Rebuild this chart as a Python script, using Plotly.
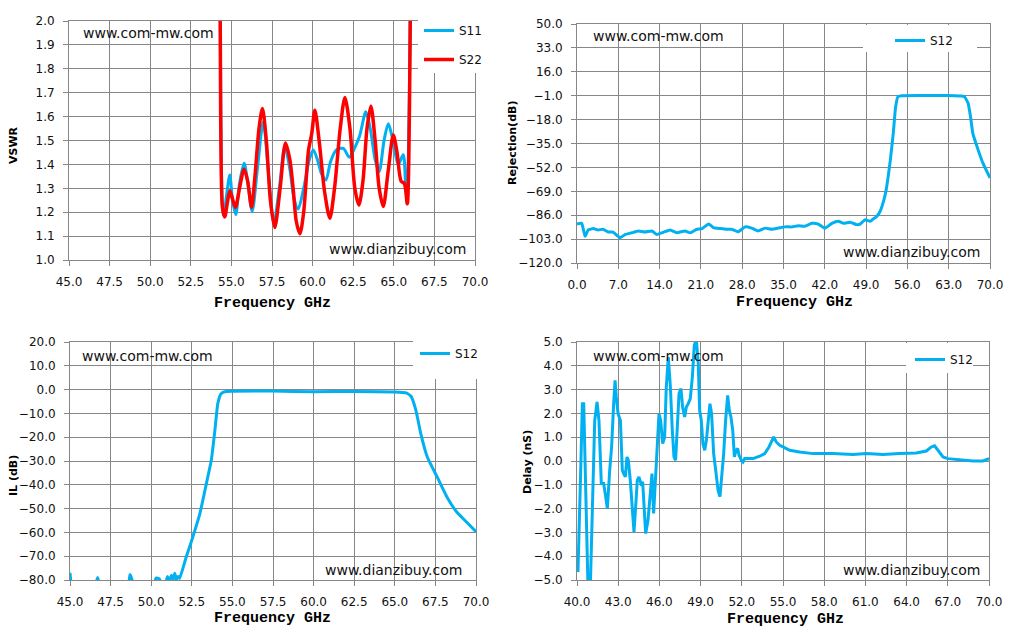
import plotly.graph_objects as go

# The page body has an 8px margin, so the figure is drawn 8px in and sized to end at 1014x632.
OFF = 8
W, H = 1014 - OFF, 632 - OFF

# ---------------- data ----------------
# VSWR (top-left)
vswr_f_s11 = [54.29, 54.35, 54.45, 54.53, 54.7, 54.9, 55.07, 55.27, 55.5, 55.78, 56.0, 56.28, 56.6, 56.96,
              57.3, 57.61, 57.95, 58.29, 58.6, 58.85, 59.11, 59.45, 59.8, 60.04, 60.3, 60.55, 60.82, 61.1,
              61.45, 61.89, 62.26, 62.6, 62.9, 63.28, 63.55, 63.85, 64.1, 64.4, 64.66, 64.95, 65.27, 65.58,
              65.72, 65.8, 65.9, 66.0, 66.05]
vswr_s11 = [2.3, 1.6, 1.22, 1.185, 1.27, 1.356, 1.25, 1.19, 1.32, 1.405, 1.33, 1.203, 1.38, 1.578,
            1.35, 1.154, 1.3, 1.474, 1.38, 1.26, 1.213, 1.3, 1.42, 1.46, 1.42, 1.36, 1.335, 1.41,
            1.46, 1.467, 1.43, 1.47, 1.52, 1.62, 1.55, 1.42, 1.37, 1.5, 1.57, 1.5, 1.40, 1.44,
            1.33, 1.29, 1.45, 1.95, 2.3]
vswr_f_s22 = [54.29, 54.34, 54.45, 54.59, 54.75, 54.9, 55.05, 55.25, 55.5, 55.78, 56.0, 56.24, 56.45, 56.7,
              56.91, 57.15, 57.4, 57.67, 58.0, 58.33, 58.6, 58.8, 59.0, 59.22, 59.45, 59.75, 59.95, 60.14,
              60.4, 60.75, 61.06, 61.35, 61.7, 61.99, 62.3, 62.6, 62.85, 63.1, 63.35, 63.59, 63.85, 64.1,
              64.35, 64.65, 64.97, 65.2, 65.45, 65.65, 65.83, 65.92, 66.0, 66.05]
vswr_s22 = [2.3, 1.6, 1.22, 1.18, 1.24, 1.29, 1.26, 1.22, 1.3, 1.38, 1.33, 1.22, 1.35, 1.55,
            1.634, 1.5, 1.25, 1.136, 1.3, 1.49, 1.42, 1.3, 1.16, 1.11, 1.2, 1.46, 1.53, 1.627,
            1.5, 1.28, 1.175, 1.3, 1.55, 1.68, 1.55, 1.3, 1.23, 1.33, 1.55, 1.644, 1.5, 1.3,
            1.224, 1.37, 1.523, 1.45, 1.33, 1.32, 1.235, 1.4, 1.9, 2.3]

# Rejection (top-right)
rej_f = [0.0, 0.8, 1.36, 1.9, 2.77, 3.6, 4.4, 5.3, 6.1, 7.3, 8.2, 9.3, 10.4, 11.5, 12.7, 13.5, 14.7, 15.8,
         16.9, 18.3, 19.2, 20.3, 21.2, 22.3, 23.1, 24.3, 25.4, 26.2, 27.3, 28.5, 29.6, 30.7, 31.9, 33.0,
         34.1, 35.25, 36.4, 37.5, 38.6, 39.8, 40.9, 42.0, 43.2, 44.3, 45.2, 46.3, 47.4, 48.0, 48.8, 49.7,
         50.2, 50.8, 51.4, 52.0, 52.4, 53.1, 53.6, 54.0, 54.4, 55.0, 58.0, 61.0, 64.0, 65.2, 65.7, 66.3,
         66.7, 67.1, 68.0, 68.8, 70.0]
rej_s12 = [-92.2, -91.8, -101.0, -96.5, -95.5, -96.5, -96.0, -98.0, -98.0, -102.0, -99.7, -98.5, -97.2,
           -98.0, -97.2, -99.7, -98.0, -96.5, -98.5, -97.2, -98.5, -96.0, -95.5, -92.2, -94.8, -95.5,
           -96.0, -96.0, -97.8, -94.3, -95.2, -97.2, -95.2, -96.0, -95.2, -94.3, -94.3, -93.5, -93.8,
           -91.8, -92.3, -95.2, -91.8, -90.3, -91.8, -91.0, -92.7, -92.3, -89.3, -90.3, -88.6, -86.9,
           -83.0, -75.5, -68.0, -47.0, -28.0, -9.0, -1.8, -1.0, -0.8, -0.9, -1.0, -1.2, -1.8, -6.5,
           -16.0, -28.0, -39.7, -49.0, -59.5]

# Insertion loss (bottom-left)
il_f = [45.0, 45.1, 46.6, 46.7, 46.8, 48.6, 48.7, 48.8, 48.9, 50.2, 50.3, 50.5, 50.6, 50.9, 51.0, 51.1,
        51.25, 51.35, 51.45, 51.55, 51.65, 51.75, 52.16, 52.47, 53.0, 53.4, 53.7, 53.9, 54.1, 54.3, 54.6,
        57.5, 60.0, 62.5, 65.0, 65.7, 66.0, 66.3, 66.6, 67.0, 67.6, 68.2, 68.8, 69.4, 70.0]
il_s12 = [-77.0, -81.0, -81.0, -79.0, -81.0, -81.0, -77.7, -79.5, -81.0, -81.0, -79.2, -79.5, -81.0,
          -81.0, -78.5, -80.5, -78.0, -80.0, -77.2, -79.8, -78.5, -79.3, -70.2, -63.9, -52.0, -39.4,
          -29.7, -18.5, -5.9, -1.7, -0.8, -0.6, -0.9, -0.8, -1.0, -1.4, -2.8, -8.7, -18.5, -28.3, -36.6,
          -45.0, -51.3, -55.5, -59.7]

# Group delay (bottom-right)
dl_f = [40.07, 40.19, 40.27, 40.39, 40.49, 40.63, 40.8, 40.97, 41.12, 41.29, 41.46, 41.6, 41.77, 41.94,
        42.09, 42.21, 42.38, 42.52, 42.67, 42.77, 42.86, 42.99, 43.16, 43.3, 43.4, 43.52, 43.64, 43.74,
        43.88, 44.03, 44.15, 44.27, 44.39, 44.51, 44.66, 44.78, 44.88, 45.0, 45.17, 45.34, 45.46, 45.58,
        45.7, 45.85, 45.97, 46.09, 46.24, 46.38, 46.5, 46.65, 46.8, 46.94, 47.06, 47.18, 47.31, 47.43,
        47.57, 47.69, 47.84, 47.96, 48.1, 48.25, 48.4, 48.54, 48.69, 48.83, 48.93, 49.05, 49.17, 49.3,
        49.42, 49.54, 49.68, 49.8, 49.95, 50.1, 50.27, 50.41, 50.53, 50.68, 50.82, 50.97, 51.09, 51.21,
        51.34, 51.46, 51.58, 51.7, 51.8, 51.97, 52.09, 52.21, 52.45, 52.82, 53.3, 53.67, 53.98, 54.15,
        54.32, 54.51, 54.76, 55.0, 55.49, 56.21, 57.18, 58.64, 60.1, 61.07, 62.28, 63.5, 64.7, 65.44,
        65.8, 66.04, 66.29, 66.65, 67.01, 67.86, 68.83, 69.56, 70.0]
dl_s12 = [-4.66, -2.49, -0.39, 2.41, 2.41, -1.09, -5.3, -5.3, -2.5, 1.7, 2.48, 1.7, -0.95, -0.95,
          -1.5, -2.0, -0.4, 0.59, 2.41, 3.39, 2.69, 1.99, 1.7, -0.39, -0.53, -0.67, 0.17, 0.03,
          -0.81, -1.93, -2.98, -1.93, -0.81, -0.67, -0.95, -0.88, -1.93, -3.05, -2.49, -1.5, -0.53, -2.2,
          -0.95, 1.0, 1.98, 1.7, 0.73, 1.0, 3.1, 4.37, 3.1, 1.29, 0.17, 0.03, 1.7, 2.83,
          3.04, 2.27, 1.85, 2.27, 2.41, 2.62, 3.53, 4.86, 5.1, 4.09, 2.13, 1.7, 0.73, 0.45,
          0.87, 1.7, 2.41, 1.99, 0.31, -0.39, -1.23, -1.5, -0.67, 0.31, 1.7, 2.76, 2.13, 1.85,
          1.29, 0.17, 0.45, 0.52, 0.24, 0.03, -0.04, 0.1, 0.1, 0.1, 0.2, 0.31, 0.59, 0.8,
          1.01, 0.8, 0.66, 0.59, 0.45, 0.38, 0.31, 0.31, 0.27, 0.31, 0.27, 0.31, 0.34, 0.42,
          0.59, 0.64, 0.45, 0.17, 0.1, 0.06, 0.0, 0.0, 0.1]

# tick settings
x_ticks_tl = [45.0, 70.0, 2.5]
y_ticks_tl = [1.0, 2.0, 0.1]
x_ticks_tr = [0.0, 70.0, 7.0]
y_ticks_tr = [-120.0, 50.0, 17.0]
x_ticks_bl = [45.0, 70.0, 2.5]
y_ticks_bl = [-80.0, 20.0, 10.0]
x_ticks_br = [40.0, 70.0, 3.0]
y_ticks_br = [-5.0, 5.0, 1.0]

BLUE = "#00B0F0"
RED = "#FF0000"
GRID = "#878787"
TICKFONT = dict(family="DejaVu Sans", size=12, color="#111111")

# plot areas in window pixels: (left, right, top, bottom)
areas = [(69, 475, 21, 260), (577, 990, 24, 263), (70, 476, 342, 580), (577, 989, 342, 580)]

def px(x):
    return (x - OFF) / W

def py(y):
    return 1 - (y - OFF) / H

fig = go.Figure()

fig.add_trace(go.Scatter(x=vswr_f_s11, y=vswr_s11, name="S11", mode="lines",
                         line=dict(color=BLUE, width=3, shape="spline", smoothing=0.8),
                         xaxis="x", yaxis="y", legend="legend", legendgroup="a"))
fig.add_trace(go.Scatter(x=vswr_f_s22, y=vswr_s22, name="S22", mode="lines",
                         line=dict(color=RED, width=3.5, shape="spline", smoothing=0.8),
                         xaxis="x", yaxis="y", legend="legend", legendgroup="b"))
fig.add_trace(go.Scatter(x=rej_f, y=rej_s12, name="S12", mode="lines",
                         line=dict(color=BLUE, width=3, shape="spline", smoothing=0.4),
                         xaxis="x2", yaxis="y2", legend="legend2"))
fig.add_trace(go.Scatter(x=il_f, y=il_s12, name="S12", mode="lines",
                         line=dict(color=BLUE, width=3, shape="spline", smoothing=0.4),
                         xaxis="x3", yaxis="y3", legend="legend3"))
fig.add_trace(go.Scatter(x=dl_f, y=dl_s12, name="S12", mode="lines",
                         line=dict(color=BLUE, width=3),
                         xaxis="x4", yaxis="y4", legend="legend4"))

def axis(ticks, domain, anchor):
    return dict(domain=domain, anchor=anchor, range=[ticks[0], ticks[1]], tick0=ticks[0], dtick=ticks[2],
                tickformat=".1f", showgrid=True, gridcolor=GRID, gridwidth=1, showline=True,
                linecolor=GRID, linewidth=1, mirror=True, ticks="outside", ticklen=5, tickcolor=GRID,
                tickwidth=1, zeroline=False, tickfont=TICKFONT, fixedrange=True, ticklabelstandoff=6,
                automargin=False)

xt = [x_ticks_tl, x_ticks_tr, x_ticks_bl, x_ticks_br]
yt = [y_ticks_tl, y_ticks_tr, y_ticks_bl, y_ticks_br]
layout = {}
for i, (l, r, t, b) in enumerate(areas):
    sfx = "" if i == 0 else str(i + 1)
    layout["xaxis" + sfx] = axis(xt[i], [px(l), px(r)], "y" + sfx)
    layout["yaxis" + sfx] = axis(yt[i], [py(b), py(t)], "x" + sfx)

fig.update_layout(**layout)

# white boxes behind legends (cover grid)
boxes = [(418, 478, 20, 73), (863, 977, 25, 52), (413, 478, 340, 379), (906, 973, 343, 373)]
shapes = []
for (x0, x1, y0, y1) in boxes:
    shapes.append(dict(type="rect", xref="paper", yref="paper", x0=px(x0), x1=px(x1), y0=py(y1), y1=py(y0),
                       fillcolor="white", line=dict(width=0), layer="above"))

annotations = []
def ann(text, x, y, xanchor="center", size=14, family="DejaVu Sans", angle=0, color="#111111", bold=False):
    if bold:
        text = "<b>" + text + "</b>"
    annotations.append(dict(text=text, x=px(x), y=py(y), xref="paper", yref="paper", xanchor=xanchor,
                            yanchor="middle", showarrow=False, textangle=angle,
                            font=dict(family=family, size=size, color=color)))

# watermarks
ann("www.com-mw.com", 81, 33, "left")
ann("www.dianzibuy.com", 468, 249, "right")
ann("www.com-mw.com", 591, 36, "left")
ann("www.dianzibuy.com", 982, 252, "right")
ann("www.com-mw.com", 80, 356, "left")
ann("www.dianzibuy.com", 464, 570, "right")
ann("www.com-mw.com", 591, 356, "left")
ann("www.dianzibuy.com", 982, 570, "right")

# axis titles
for (x, y) in [(272, 303), (794, 302), (272, 618), (785, 619)]:
    ann("Frequency GHz", x, y, size=15, family="Liberation Mono", bold=True, color="#000000")
ann("VSWR", 13, 145, size=11, angle=-90, bold=True, color="#000000")
ann("Rejection(dB)", 512, 143, size=11, angle=-90, bold=True, color="#000000")
ann("IL (dB)", 13, 476, size=11, angle=-90, bold=True, color="#000000")
ann("Delay (nS)", 527, 462, size=11, angle=-90, bold=True, color="#000000")

legend_common = dict(bgcolor="rgba(0,0,0,0)", borderwidth=0, xanchor="left", yanchor="top",
                     font=dict(family="DejaVu Sans", size=12, color="#111111"), itemclick=False,
                     itemdoubleclick=False)
fig.update_layout(
    width=W, height=H, margin=dict(l=0, r=0, t=0, b=0, pad=0, autoexpand=False),
    paper_bgcolor="white", plot_bgcolor="white",
    shapes=shapes, annotations=annotations,
    legend=dict(x=px(419), y=py(16), tracegroupgap=10, traceorder="grouped", **legend_common),
    legend2=dict(x=px(890), y=py(26), **legend_common),
    legend3=dict(x=px(415), y=py(339), **legend_common),
    legend4=dict(x=px(910), y=py(345), **legend_common),
)

fig.write_html("out.html")
